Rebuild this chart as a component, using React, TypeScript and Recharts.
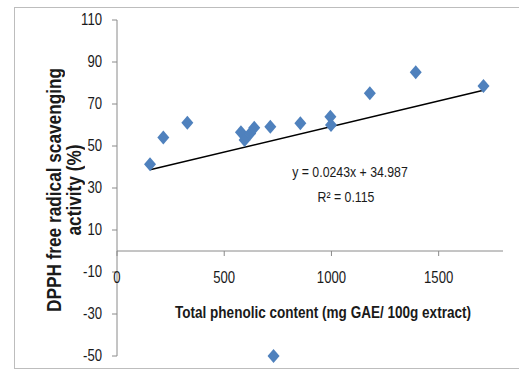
import { ScatterChart, Scatter, XAxis, YAxis, ReferenceLine } from 'recharts'

// data
const phenolic = [154, 216, 328, 578, 595, 621, 640, 715, 730, 855, 995, 998, 1179, 1393, 1709]
const dpph = [41.3, 54.1, 61.1, 56.5, 52.9, 56.0, 58.7, 59.2, -50, 60.8, 63.9, 60.0, 75.1, 85.1, 78.6]
const xTicks = [0, 500, 1000, 1500]
const yTicks = [-50, -30, -10, 10, 30, 50, 70, 90, 110]
const slope = 0.0243
const intercept = 34.987

const points = phenolic.map((x, i) => ({ x, y: dpph[i] }))
const xMin = Math.min(...phenolic)
const xMax = Math.max(...phenolic)

// no narrow font installed, so squeeze Liberation Sans horizontally
const FONT = '"Liberation Sans", Arial, sans-serif'
const SQUEEZE = 0.82
const AXIS = '#8a8a8a'
const TEXT = '#1a1a1a'
const BLUE = '#4F81BD'

const W = 519
const H = 369
const TOP = 20
const XAXIS_H = 13
const PLOT_H = H - TOP - XAXIS_H
const ZERO_Y = TOP + (PLOT_H * 110) / 160

function XTick(props: any) {
  const { x, payload } = props
  return (
    <g>
      <line x1={x} x2={x} y1={ZERO_Y} y2={ZERO_Y + 5} stroke={AXIS} />
      <text transform={`translate(${x},${ZERO_Y + 27}) scale(${SQUEEZE},1)`} textAnchor="middle"
        dominantBaseline="central" fontSize={16} fontFamily={FONT} fill={TEXT}>
        {payload.value}
      </text>
    </g>
  )
}

function YTick(props: any) {
  const { x, y, payload } = props
  return (
    <text transform={`translate(${x},${y}) scale(${SQUEEZE},1)`} textAnchor="end"
      dominantBaseline="central" fontSize={16} fontFamily={FONT} fill={TEXT}>
      {payload.value}
    </text>
  )
}

function Diamond(props: any) {
  const { cx, cy } = props
  return <polygon points={`${cx},${cy - 7} ${cx + 6},${cy} ${cx},${cy + 7} ${cx - 6},${cy}`} fill={BLUE} />
}

const squeezed = (extra = '') => `${extra} scale(${SQUEEZE},1)`

export default function App() {
  return (
    <div style={{ position: 'absolute', left: 0, top: 0, width: W, height: H, background: '#fff', overflow: 'hidden' }}>
      {/* frame */}
      <div style={{ position: 'absolute', left: 14, top: 7, width: 600, height: 360, border: '1px solid #bdbdbd' }} />

      <div style={{ position: 'absolute', left: 0, top: 0 }}>
        <ScatterChart width={W} height={H} margin={{ top: TOP, right: 16, bottom: 0, left: 0 }}>
          <XAxis type="number" dataKey="x" domain={[0, 1800]} ticks={xTicks} height={XAXIS_H}
            axisLine={false} tickLine={false} tick={<XTick />} interval={0} />
          <YAxis type="number" dataKey="y" domain={[-50, 110]} ticks={yTicks} width={117} interval={0}
            axisLine={{ stroke: AXIS }} tickLine={{ stroke: AXIS }} tickSize={5} tickMargin={10}
            tick={<YTick />} />
          <ReferenceLine y={0} stroke={AXIS} />
          <ReferenceLine
            segment={[{ x: xMin, y: slope * xMin + intercept }, { x: xMax, y: slope * xMax + intercept }]}
            stroke="#000" strokeWidth={1.5} />
          <Scatter data={points} shape={<Diamond />} isAnimationActive={false} />
        </ScatterChart>
      </div>

      {/* axis titles */}
      <div style={{
        position: 'absolute', left: 64 - 160, top: 190 - 20, width: 320, height: 40,
        transform: 'rotate(-90deg)', textAlign: 'center', lineHeight: '20px',
        fontFamily: FONT, fontWeight: 'bold', fontSize: 21, color: TEXT,
      }}>
        <div style={{ transform: squeezed() }}>DPPH free radical scavenging</div>
        <div style={{ transform: squeezed() }}>activity (%)</div>
      </div>
      <div style={{
        position: 'absolute', left: 323 - 200, top: 312 - 10, width: 400, lineHeight: '20px',
        textAlign: 'center', fontFamily: FONT, fontWeight: 'bold', fontSize: 16.5, color: TEXT,
        transform: squeezed(),
      }}>
        Total phenolic content (mg GAE/ 100g extract)
      </div>

      {/* trendline label */}
      <div style={{
        position: 'absolute', left: 350 - 100, top: 172 - 10, width: 200, lineHeight: '20px',
        textAlign: 'center', fontFamily: FONT, fontSize: 15, color: TEXT, transform: squeezed(),
      }}>
        y = 0.0243x + 34.987
      </div>
      <div style={{
        position: 'absolute', left: 346 - 100, top: 197 - 10, width: 200, lineHeight: '20px',
        textAlign: 'center', fontFamily: FONT, fontSize: 15, color: TEXT, transform: squeezed(),
      }}>
        R² = 0.115
      </div>
    </div>
  )
}
